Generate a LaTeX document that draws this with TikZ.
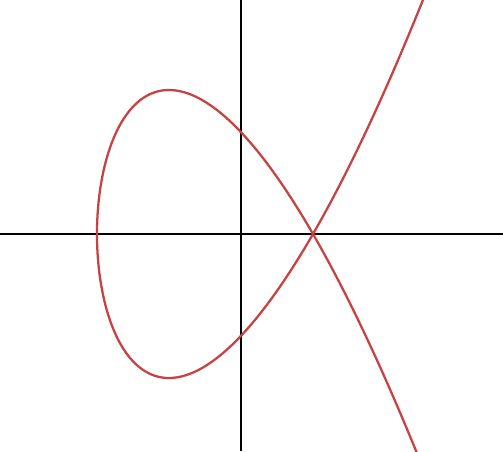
\documentclass[tikz,border=0pt]{standalone}
\usepackage{tikz}
\definecolor{CurveColor}{rgb}{0.78,0.26,0.26}
\tikzset{
    axis/.style={draw=black, line width=0.45pt},
    curve/.style={draw=CurveColor, line width=0.9pt}
}
\begin{document}
\begin{tikzpicture}[x=1cm, y=1cm]

% Frame
\useasboundingbox (-3.347, -3.014) rectangle (3.639, 3.25);
\clip (-3.347, -3.014) rectangle (3.639, 3.25);

% Axes
\coordinate (xl) at (-3.347, 0);
\coordinate (xr) at (3.639, 0);
\coordinate (yb) at (0, -3.014);
\coordinate (yt) at (0, 3.25);
\draw[axis] (xl) -- (xr);
\draw[axis] (yb) -- (yt);

% Nodal cubic y^2 = (x-1)^2 (x+2)
\draw[curve, smooth, samples=200, domain=-2.25:2.25, variable=\t]
    plot ({\t*\t-2}, {\t*(\t*\t-3)});

\end{tikzpicture}
\end{document}
